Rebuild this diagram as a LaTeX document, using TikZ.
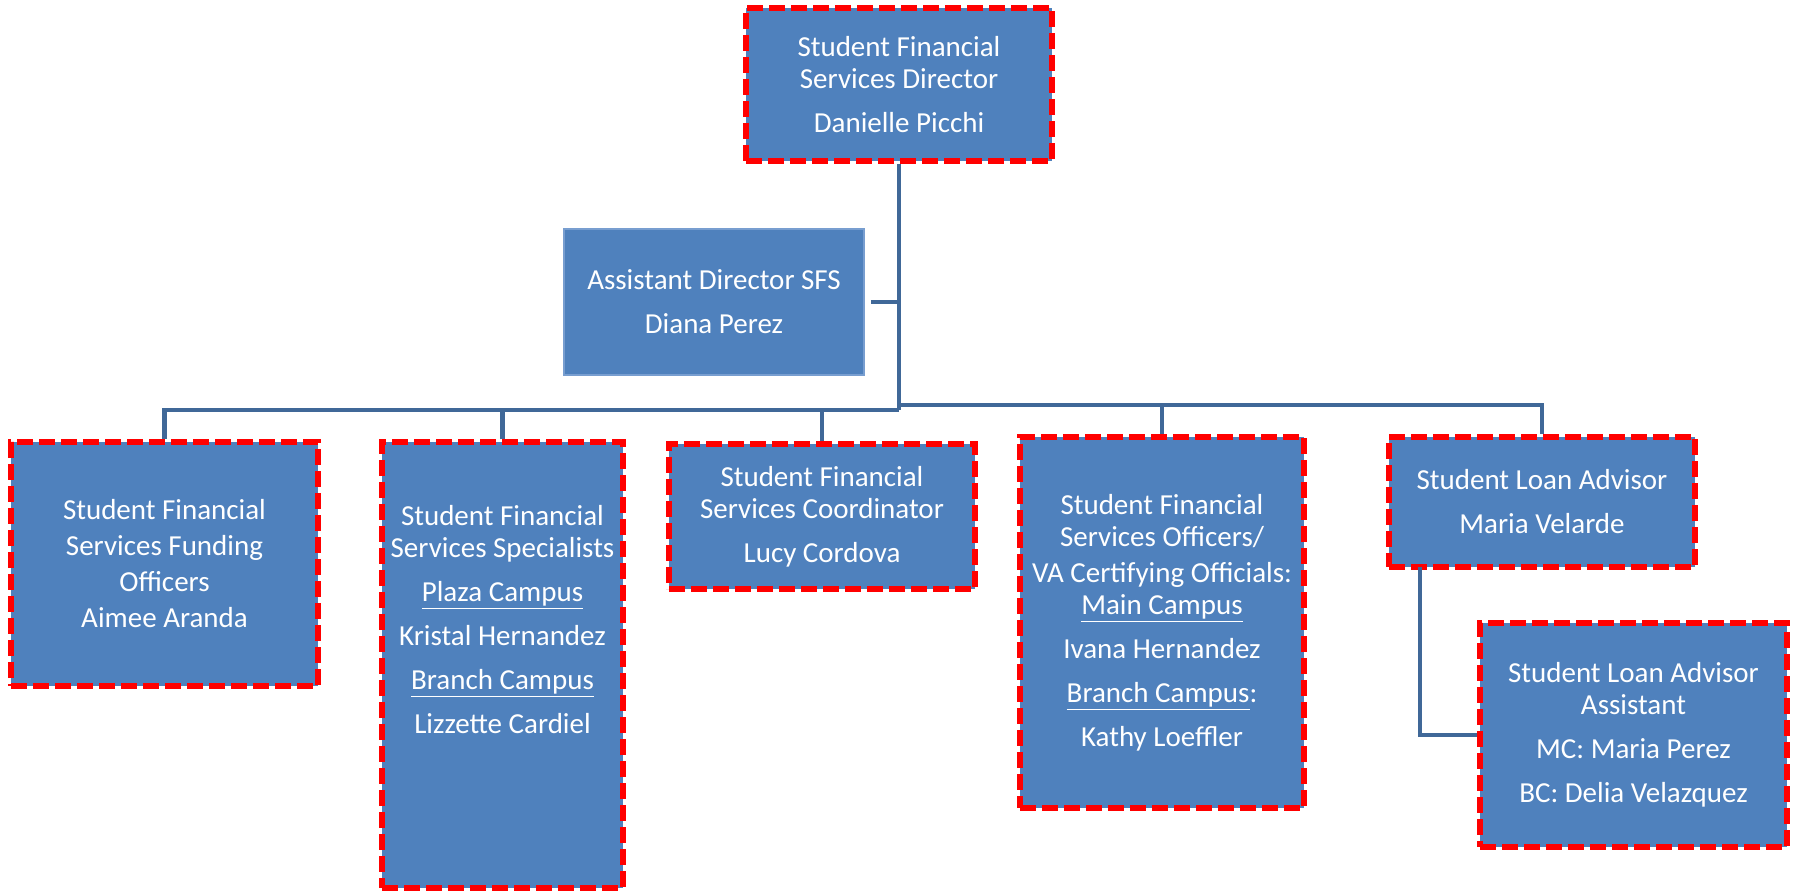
\documentclass[tikz,border=0pt]{standalone}
\usepackage{fontspec}
\setmainfont{Carlito}
\usepackage{tikz}
\definecolor{boxblue}{RGB}{79,129,189}
\definecolor{lineblue}{RGB}{64,104,152}
\definecolor{edgeblue}{RGB}{120,158,208}
\tikzset{post/.style={fill=boxblue, draw=red, line width=2.6pt, dash pattern=on 8pt off 3pt, text=white, align=center, inner sep=0pt, font=\fontsize{14.5}{16}\selectfont},
         plain/.style={fill=boxblue, draw=edgeblue, line width=0.8pt, text=white, align=center, inner sep=0pt, font=\fontsize{14.5}{16}\selectfont},
         conn/.style={draw=lineblue, line width=2.2pt}}

\begin{document}
\begin{tikzpicture}[x=0.5pt, y=-0.5pt]
\useasboundingbox (0,0) rectangle (1794,892);
\node[post, minimum width=153pt, minimum height=76.5pt] (dir) at (899,84.5) {Student Financial\\Services Director\\[6pt]Danielle Picchi};
\node[plain, minimum width=150pt, minimum height=73pt] (asst) at (714,302) {Assistant Director SFS\\[6pt]Diana Perez};
\node[post, minimum width=153.5pt, minimum height=122pt] (fund) at (164.5,564) {Student Financial\\[2pt]Services Funding\\[2pt]Officers\\[2pt]Aimee Aranda};
\node[post, minimum width=120.5pt, minimum height=223pt] (spec) at (502.5,665) {Student Financial\\Services Specialists\\[6pt]\underline{Plaza Campus}\\[6pt]Kristal Hernandez\\[6pt]\underline{Branch Campus}\\[6pt]Lizzette Cardiel\\[30pt]\mbox{}};
\node[post, minimum width=153pt, minimum height=72.5pt] (coord) at (822,516.5) {Student Financial\\Services Coordinator\\[6pt]Lucy Cordova};
\node[post, minimum width=142pt, minimum height=185.5pt] (offi) at (1162,622.5) {Student Financial\\Services Officers/\\[2pt]VA Certifying Officials:\\\underline{Main Campus}\\[6pt]Ivana Hernandez\\[6pt]\underline{Branch Campus}:\\[6pt]Kathy Loeffler};
\node[post, minimum width=153pt, minimum height=65pt] (loan) at (1542,502) {Student Loan Advisor\\[6pt]Maria Velarde};
\node[post, minimum width=153.5pt, minimum height=112pt] (lasst) at (1633.5,735) {Student Loan Advisor\\Assistant\\[6pt]MC: Maria Perez\\[6pt]BC: Delia Velazquez};
\coordinate (jl) at (899,410);
\coordinate (jr) at (899,405);
\coordinate (tap) at (1420,567);
\draw[conn] (dir.south) -- (jl);
\draw[conn, shorten <=3pt] (asst.east) -- (asst.east -| dir.south);
\draw[conn] (fund.north) |- (jl);
\draw[conn] (spec.north) -- (spec.north |- jl);
\draw[conn] (coord.north) -- (coord.north |- jl);
\draw[conn] (jr) -| (loan.north);
\draw[conn] (offi.north) -- (offi.north |- jr);
\draw[conn] (tap) |- (lasst.west);
\end{tikzpicture}
\end{document}
